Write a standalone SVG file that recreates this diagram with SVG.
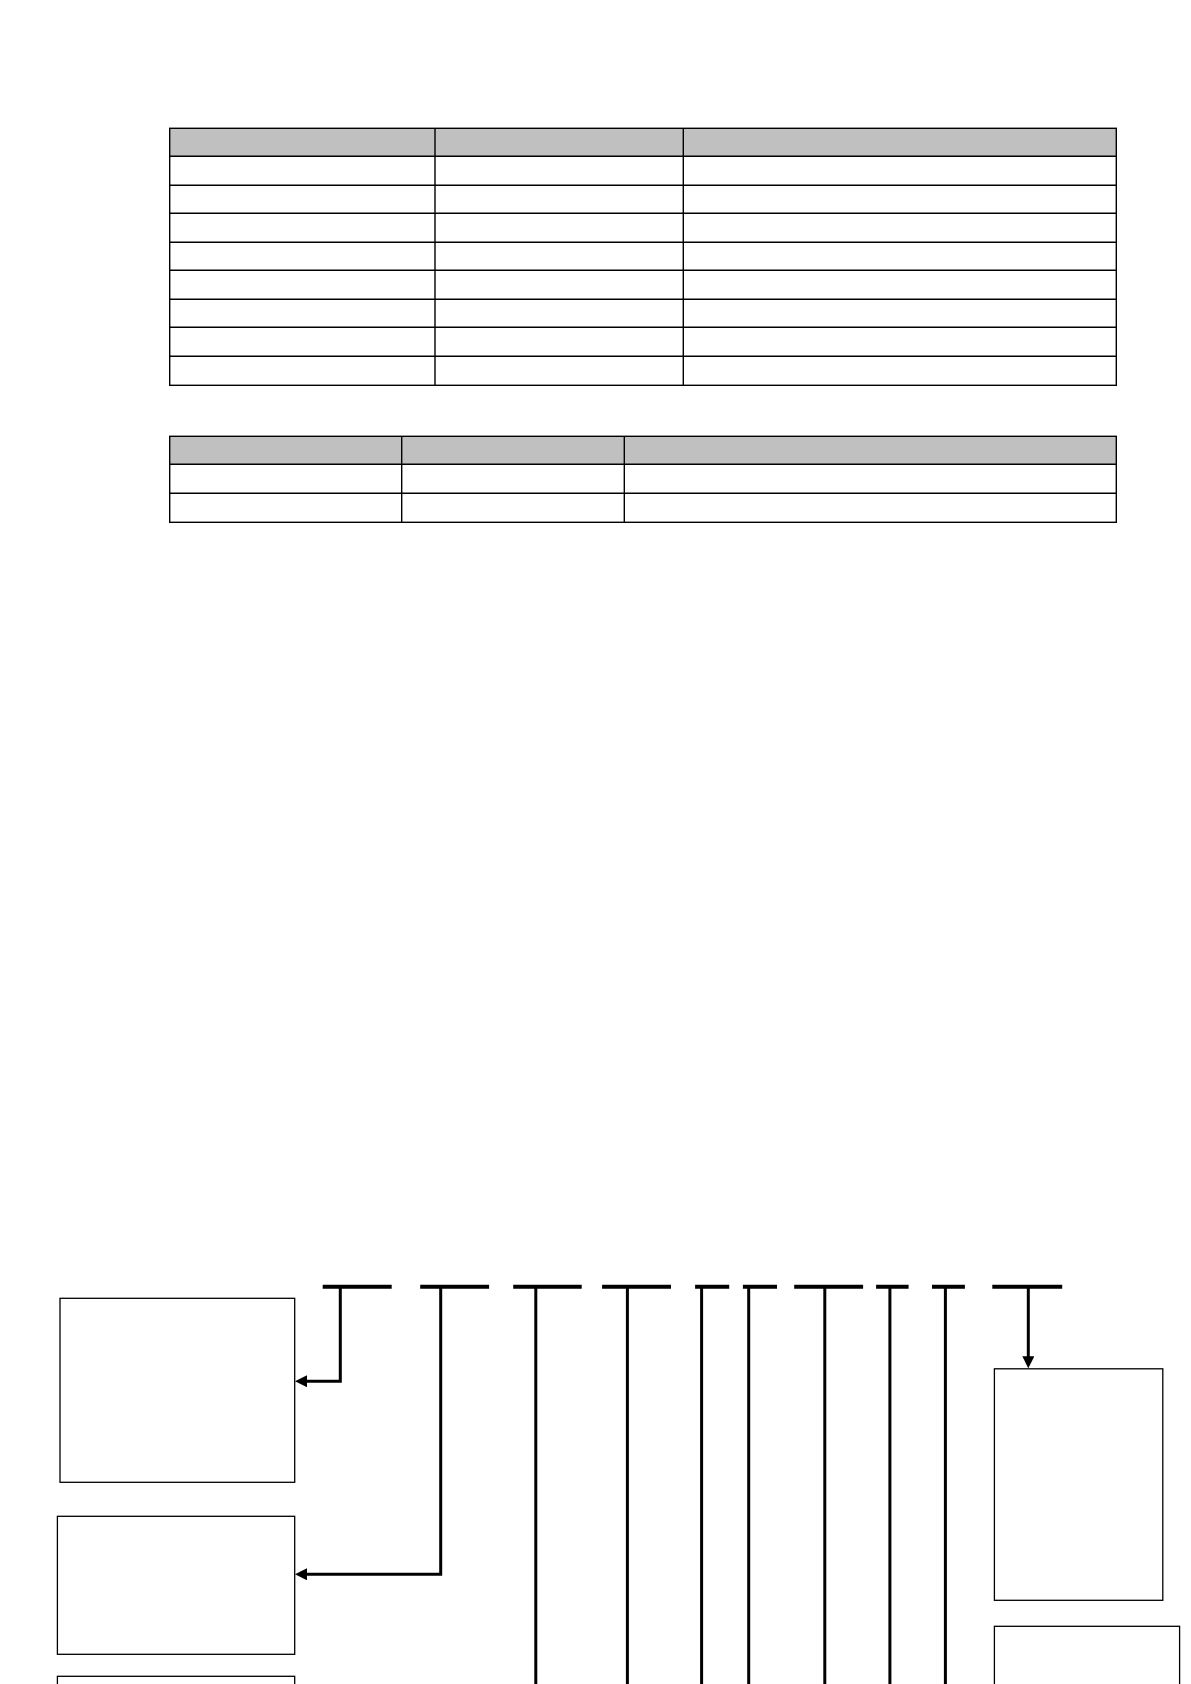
<svg xmlns="http://www.w3.org/2000/svg" width="1191" height="1684" viewBox="0 0 1191 1684">
<style>
.hdr{fill:#c0c0c0;stroke:none}
.grid{stroke:#000;stroke-width:1.4;fill:none}
.box{fill:#fff;stroke:#000;stroke-width:1.3}
.bar{stroke:#000;stroke-width:4;fill:none}
.wire{stroke:#000;stroke-width:3;fill:none;stroke-linejoin:miter}
</style>
<defs>
<marker id="arrow" viewBox="0 0 12 12" refX="7" refY="6" markerWidth="12" markerHeight="12" markerUnits="userSpaceOnUse" orient="auto">
<path d="M0,0 L12,6 L0,12 z" fill="#000"/>
</marker>
</defs>
<rect width="1191" height="1684" fill="#fff"/>

<g id="table1">
<rect class="hdr" x="169.7" y="128.3" width="946.6" height="28"/>
<rect class="grid" x="169.7" y="128.3" width="946.6" height="257"/>
<path class="grid" d="M169.7,156.3H1116.3M169.7,185.3H1116.3M169.7,213.3H1116.3M169.7,242.3H1116.3M169.7,270.3H1116.3M169.7,299.3H1116.3M169.7,327.3H1116.3M169.7,356.3H1116.3M435,128.3V385.3M683.3,128.3V385.3"/>
</g>

<g id="table2">
<rect class="hdr" x="169.7" y="436.3" width="946.6" height="28"/>
<rect class="grid" x="169.7" y="436.3" width="946.6" height="86"/>
<path class="grid" d="M169.7,464.3H1116.3M169.7,493.3H1116.3M401.7,436.3V522.3M624.3,436.3V522.3"/>
</g>

<g id="box-left-1"><rect class="box" x="60" y="1298.3" width="234.7" height="184"/></g>
<g id="box-left-2"><rect class="box" x="57.4" y="1516.3" width="237.3" height="138"/></g>
<g id="box-left-3"><rect class="box" x="57.4" y="1676.3" width="237.3" height="40"/></g>
<g id="box-right-1"><rect class="box" x="994.4" y="1368.8" width="168.4" height="231.5"/></g>
<g id="box-right-2"><rect class="box" x="994.4" y="1626.3" width="185.2" height="80"/></g>

<g id="connectors">
<path class="bar" d="M322.7,1286.7H391.7M420.2,1286.7H489.1M513.2,1286.7H581.7M602.1,1286.7H671M695.1,1286.7H729.2M742.9,1286.7H777M794.2,1286.7H863.1M876.1,1286.7H908.6M932,1286.7H964.9M992.3,1286.7H1062.2"/>
<path class="wire" d="M340.3,1286.7V1381.2H300" marker-end="url(#arrow)"/>
<path class="wire" d="M440.7,1286.7V1574.3H300" marker-end="url(#arrow)"/>
<path class="wire" d="M1028.3,1286.7V1363.3" marker-end="url(#arrow)"/>
<path class="wire" d="M535.8,1286.7V1684M627.4,1286.7V1684M701.6,1286.7V1684M748.7,1286.7V1684M824.8,1286.7V1684M889.9,1286.7V1684M945.4,1286.7V1684"/>
</g>
</svg>
